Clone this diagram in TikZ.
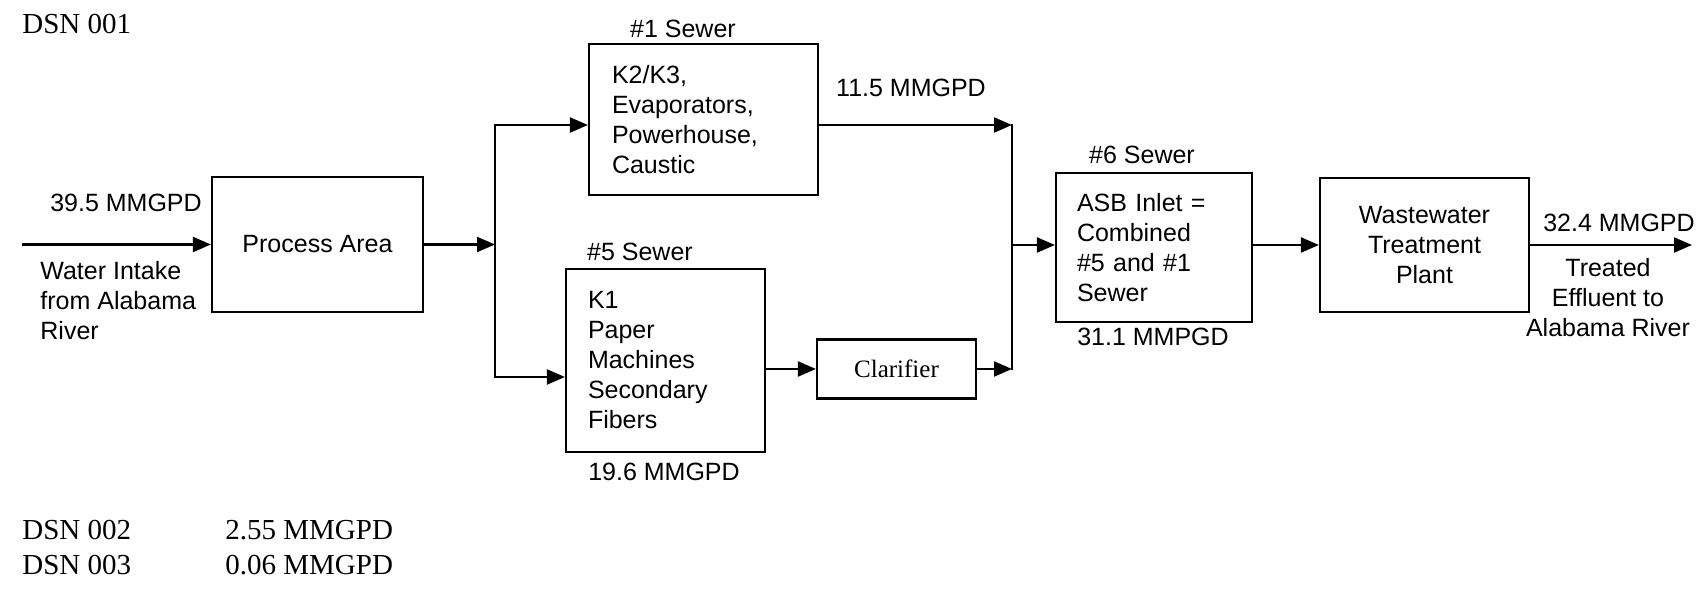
\documentclass[tikz,border=0pt]{standalone}
\usepackage{fontspec}
\setmainfont{Liberation Sans}
\newfontfamily\tnr{Liberation Serif}
\usetikzlibrary{arrows.meta}
\begin{document}
\begin{tikzpicture}[x=0.5pt,y=-0.5pt,
  every node/.style={font=\fontsize{12.5}{15}\selectfont, inner sep=0pt},
  box/.style={draw, line width=1.1pt, inner sep=0pt},
  flow/.style={line width=1.1pt, -{Triangle[length=9pt,width=7.5pt]}},
  pipe/.style={line width=1.1pt, line cap=rect},
  dsn/.style={font=\tnr\fontsize{14.5}{17}\selectfont, anchor=base west}]
\useasboundingbox (0,0) rectangle (1698,592);

% boxes
\node[box, minimum width=105.5pt, minimum height=67.5pt] (pa) at (317.5,244.5) {Process Area};
\node[box, minimum height=75.5pt, text width=91.5pt, inner xsep=11.5pt, align=left] (b1) at (703.5,119.5) {K2/K3,\\Evaporators,\\Powerhouse,\\Caustic};
\node[box, minimum height=91.5pt, text width=77.5pt, inner xsep=11pt, align=left] (b5) at (665.5,360.5) {K1\\Paper\\Machines\\Secondary\\Fibers};
\node[box, minimum width=79.5pt, minimum height=29.5pt, font=\tnr\fontsize{12.5}{15}\selectfont] (cl) at (896.5,369) {Clarifier};
\node[box, minimum height=74.5pt, text width=77pt, inner xsep=10.5pt, align=left] (asb) at (1154,247.5) {ASB Inlet =\\Combined\\\#5 and \#1\\Sewer};
\node[box, minimum width=104.5pt, minimum height=67pt, align=center] (wtp) at (1424.5,245) {Wastewater\\Treatment\\Plant};

% junctions
\coordinate (in) at (22,244.5);
\coordinate (ja) at (495,244.5);
\coordinate (jat) at (495,125);
\coordinate (jab) at (495,377);
\coordinate (jbt) at (1012,125);
\coordinate (jbb) at (1012,369);
\coordinate (jb) at (1012,245);
\coordinate (out) at (1692,245);

% connectors
\draw[flow] (in) -- (pa.west);
\draw[flow] (pa.east) -- (ja);
\draw[pipe] (jat) -- (jab);
\draw[flow] (jat) -- (b1.west |- jat);
\draw[flow] (jab) -- (b5.west |- jab);
\draw[flow] (b1.east |- jbt) -- (jbt);
\draw[flow] (b5.east |- cl) -- (cl.west);
\draw[flow] (cl.east) -- (jbb);
\draw[pipe] (jbt) -- (jbb);
\draw[flow] (jb) -- (asb.west |- jb);
\draw[flow] (asb.east |- jb) -- (wtp.west |- jb);
\draw[flow] (wtp.east |- jb) -- (out);

% labels
\node[dsn] (dsn1) at (22,34) {DSN 001};
\node (q1) at (126,203) {39.5 MMGPD};
\node[align=left, anchor=west] (win) at (40,301) {Water Intake\\from Alabama\\River};
\node (s1) at (683,29) {\#1 Sewer};
\node (q2) at (911,88) {11.5 MMGPD};
\node (s5) at (640,252) {\#5 Sewer};
\node (q3) at (664,472) {19.6 MMGPD};
\node (s6) at (1142,155) {\#6 Sewer};
\node (q4) at (1153,337) {31.1 MMPGD};
\node (q5) at (1619,223) {32.4 MMGPD};
\node[align=center] (tre) at (1608,298) {Treated\\Effluent to\\Alabama River};
\node[dsn] (dsn2) at (22,540) {DSN 002};
\node[dsn] (dsn2q) at (225,540) {2.55 MMGPD};
\node[dsn] (dsn3) at (22,575) {DSN 003};
\node[dsn] (dsn3q) at (225,575) {0.06 MMGPD};
\end{tikzpicture}
\end{document}
